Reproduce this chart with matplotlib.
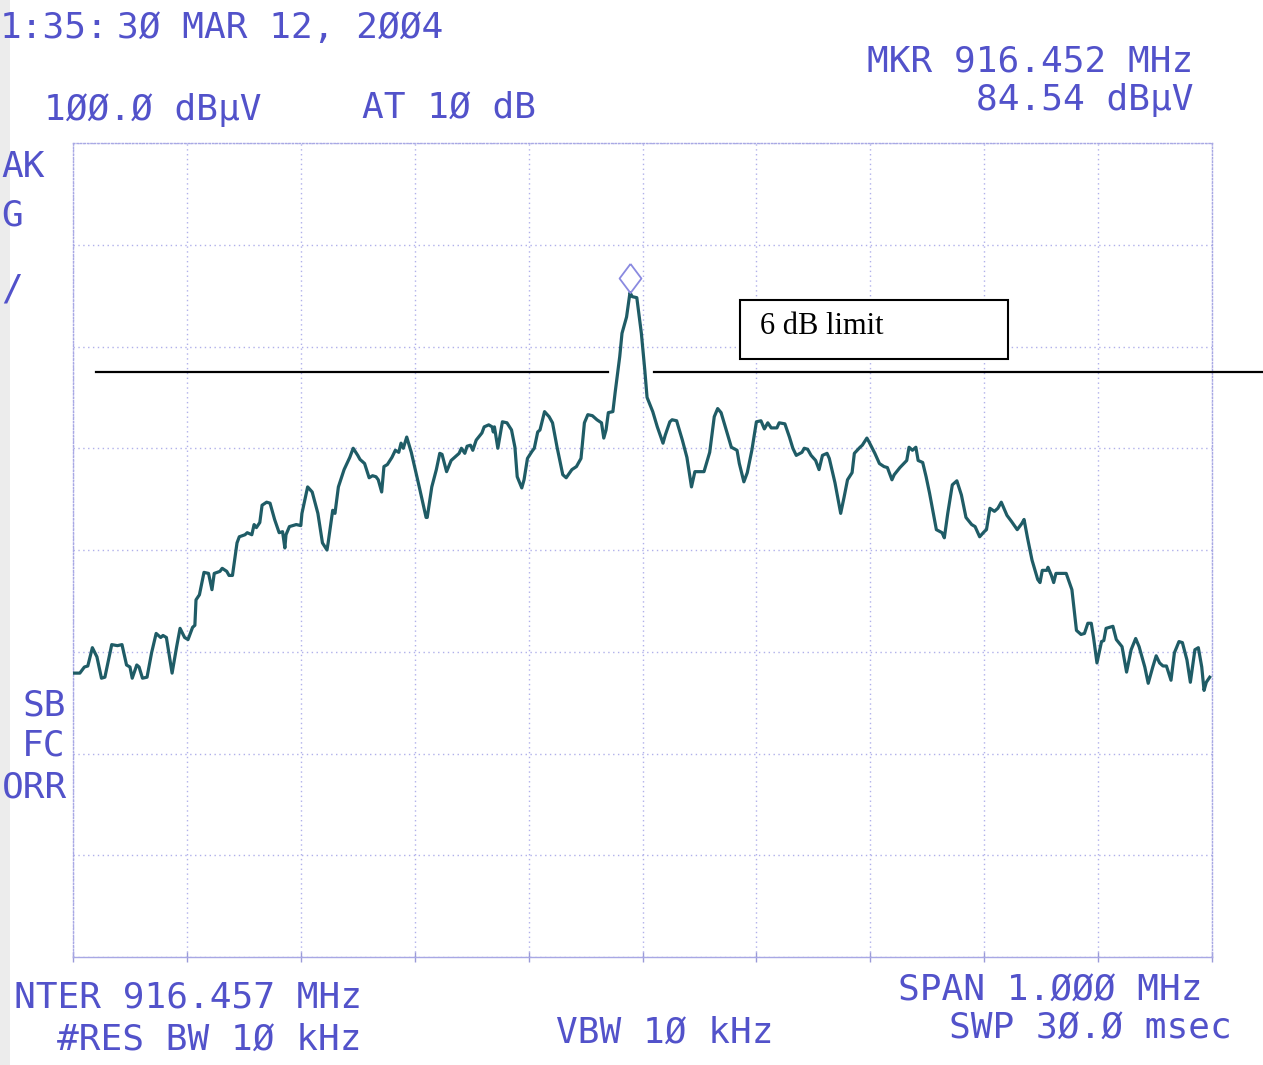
import matplotlib
matplotlib.use('Agg')
import matplotlib.pyplot as plt
import matplotlib.transforms as mtransforms
from matplotlib.patches import Rectangle
import numpy as np

# analyzer settings (from the printout)
center_mhz = 916.457
span_mhz = 1.0
ref_level = 100.0
db_per_div = 10.0
n_vdiv = 8

# trace: offset from center (kHz) and level (dBuV)
offset_khz = [
    -500, -494, -490, -487, -483, -479, -475, -472, -466, -461, -457, -453,
    -450, -448, -444, -442, -439, -435, -431, -427, -423, -421, -418, -413,
    -409, -406, -402, -399, -395, -393, -392, -389, -385, -381, -378, -376,
    -371, -369, -365, -363, -360, -356, -354, -349, -347, -343, -341, -339,
    -336, -334, -330, -327, -323, -319, -316, -314, -313, -310, -307, -304,
    -300, -299, -294, -290, -285, -281, -277, -276, -272, -270, -267, -262,
    -257, -254, -250, -248, -244, -240, -237, -234, -232, -229, -227, -224,
    -220, -217, -214, -212, -210, -207, -203, -196, -190, -189, -185, -181,
    -178, -176, -172, -168, -165, -161, -159, -156, -154, -151, -149, -146,
    -141, -139, -135, -132, -131, -130, -127, -123, -119, -115, -112, -110,
    -106, -104, -101, -97, -95, -92, -90, -86, -82, -79, -75, -70,
    -67, -62, -58, -54, -51, -48, -44, -40, -36, -34, -32, -30,
    -26, -24, -20, -18, -14, -11, -9, -5, -1, 2, 4, 9,
    13, 18, 20, 24, 26, 30, 31, 35, 39, 43, 46, 50,
    54, 59, 63, 66, 69, 74, 78, 83, 85, 89, 92, 96,
    100, 104, 107, 110, 113, 118, 120, 125, 129, 132, 135, 140,
    142, 145, 148, 152, 155, 158, 162, 164, 169, 174, 177, 180,
    184, 186, 191, 193, 197, 199, 204, 208, 212, 215, 219, 221,
    226, 232, 234, 237, 240, 242, 246, 249, 252, 258, 263, 265,
    268, 272, 276, 280, 284, 289, 292, 296, 300, 302, 305, 309,
    312, 315, 320, 324, 329, 333, 335, 338, 342, 347, 349, 351,
    355, 356, 359, 361, 363, 368, 372, 377, 381, 385, 388, 391,
    394, 396, 399, 403, 405, 407, 413, 416, 421, 425, 429, 433,
    436, 441, 444, 448, 451, 454, 457, 460, 464, 467, 471, 474,
    478, 481, 485, 488, 491, 493, 495, 498,
]
level_db = [
    47.9, 47.9, 48.5, 48.6, 50.4, 49.5, 47.4, 47.5, 50.7, 50.6, 50.7, 48.7,
    48.5, 47.4, 48.7, 48.5, 47.4, 47.5, 49.9, 51.8, 51.4, 51.6, 51.4, 47.9,
    50.5, 52.3, 51.4, 51.2, 52.4, 52.6, 55.1, 55.6, 57.8, 57.7, 56.1, 57.7,
    57.9, 58.2, 57.9, 57.5, 57.5, 60.7, 61.3, 61.5, 61.7, 61.5, 62.5, 62.2,
    62.7, 64.4, 64.7, 64.6, 63.0, 61.7, 61.8, 60.2, 61.5, 62.3, 62.4, 62.5,
    62.4, 63.6, 66.2, 65.7, 63.6, 60.7, 60.0, 60.7, 63.9, 63.6, 66.2, 67.9,
    69.1, 70.0, 69.3, 68.9, 68.5, 67.1, 67.3, 67.2, 66.9, 65.7, 68.2, 68.4,
    69.1, 69.8, 69.6, 70.5, 70.0, 71.1, 69.6, 66.2, 63.2, 63.2, 66.2, 67.9,
    69.5, 69.4, 67.7, 68.8, 69.1, 69.5, 70.0, 69.5, 70.2, 70.3, 69.8, 70.8,
    71.5, 72.1, 72.3, 72.1, 71.6, 72.1, 70.0, 72.6, 72.5, 71.8, 70.1, 67.2,
    66.1, 66.9, 69.0, 69.7, 70.0, 71.6, 71.8, 73.6, 73.1, 72.5, 70.1, 67.4,
    67.1, 67.9, 68.2, 69.0, 72.5, 73.3, 73.2, 72.8, 72.5, 71.0, 71.8, 73.5,
    73.6, 75.5, 79.0, 81.3, 82.9, 85.3, 84.9, 84.8, 81.3, 77.7, 75.0, 73.6,
    72.1, 70.5, 71.3, 72.6, 72.8, 72.7, 72.3, 70.8, 69.1, 66.2, 67.7, 67.7,
    67.7, 69.6, 73.1, 73.9, 73.5, 71.6, 70.1, 69.8, 68.5, 66.7, 67.6, 69.8,
    72.6, 72.7, 71.9, 72.5, 72.0, 72.0, 72.5, 72.4, 71.1, 70.0, 69.3, 69.6,
    70.0, 69.9, 69.3, 68.8, 67.9, 69.3, 69.5, 69.0, 66.6, 63.6, 65.2, 66.9,
    67.6, 69.5, 70.1, 70.3, 71.0, 70.6, 69.5, 68.5, 68.2, 68.1, 66.9, 67.4,
    68.1, 68.8, 70.1, 69.8, 70.1, 68.8, 68.6, 67.2, 65.6, 62.0, 61.7, 61.2,
    63.6, 66.4, 66.8, 65.4, 63.2, 62.5, 62.3, 61.3, 61.8, 62.0, 64.1, 63.8,
    64.1, 64.7, 63.4, 62.8, 62.0, 62.6, 63.0, 61.2, 59.0, 57.1, 56.8, 58.0,
    58.0, 58.3, 57.5, 56.8, 57.7, 57.7, 57.7, 56.1, 52.1, 51.7, 51.8, 52.8,
    52.8, 51.4, 48.9, 51.0, 51.1, 52.3, 52.5, 51.2, 50.5, 48.0, 50.2, 51.3,
    50.5, 48.5, 46.9, 48.5, 49.6, 48.9, 48.6, 48.6, 47.2, 49.9, 51.0, 50.9,
    49.2, 47.0, 50.2, 50.4, 48.5, 46.2, 47.0, 47.5,
]

# hand drawn "6 dB limit" line and its label box
limit_db = 77.5
limit_from_khz = [-480, 10]
limit_to_khz = [-30, 544]
box_khz = [86, 321]
box_db = [78.8, 84.6]
box_text = '6 dB limit'

# printed annotation strings (what is visible on the cropped scan):
# text, anchor x px, centre y px, alignment
print_labels = [
    ('1:35:', 0, 28, 'left'),
    ('3Ø MAR 12, 2ØØ4', 443, 28, 'right'),
    ('1ØØ.Ø dBµV', 262, 110, 'right'),
    ('AT 1Ø dB', 536, 108, 'right'),
    ('MKR 916.452 MHz', 1193, 62, 'right'),
    ('84.54 dBµV', 1193, 100, 'right'),
    ('AK', 1, 167, 'left'),
    ('G', 1, 215, 'left'),
    ('/', 1, 290, 'left'),
    ('SB', 66, 706, 'right'),
    ('FC', 65, 746, 'right'),
    ('ORR', 67, 788, 'right'),
    ('NTER 916.457 MHz', 362, 997, 'right'),
    ('#RES BW 1Ø kHz', 362, 1040, 'right'),
    ('VBW 1Ø kHz', 773, 1033, 'right'),
    ('SPAN 1.ØØØ MHz', 1202, 990, 'right'),
    ('SWP 3Ø.Ø msec', 1232, 1028, 'right'),
]

W, H = 1263, 1065
fig = plt.figure(figsize=(W / 100, H / 100), dpi=100)
fig.patch.set_facecolor('white')
fig.patches.append(Rectangle((0, 0), 10 / W, 1, transform=fig.transFigure,
                             facecolor='#ececec', edgecolor='none', zorder=0))

ax = fig.add_axes([73 / W, 1 - 957 / H, (1212 - 73) / W, (957 - 143) / H])

freq = center_mhz + np.array(offset_khz) / 1000.0
ax.plot(freq, level_db, color='#1f5c66', lw=2.3, solid_joinstyle='round', zorder=3)

# marker diamond sits just above the peak
ipk = int(np.argmax(level_db))
diamond = [(0, 1), (0.75, 0), (0, -1), (-0.75, 0), (0, 1)]
mk_trans = mtransforms.offset_copy(ax.transData, fig=fig, x=0, y=15, units='dots')
ax.plot(freq[ipk], level_db[ipk], marker=diamond, ms=21, mfc='none',
        mec='#8a8ae0', mew=1.3, transform=mk_trans, zorder=4)

# limit line (runs past the graticule on the right)
for a, b in zip(limit_from_khz, limit_to_khz):
    ax.plot([center_mhz + a / 1000.0, center_mhz + b / 1000.0], [limit_db, limit_db],
            color='black', lw=1.6, clip_on=False, zorder=5)

ax.add_patch(Rectangle((center_mhz + box_khz[0] / 1000.0, box_db[0]),
                       (box_khz[1] - box_khz[0]) / 1000.0, box_db[1] - box_db[0],
                       facecolor='white', edgecolor='black', lw=1.5, zorder=5))
ax.text(center_mhz + (box_khz[0] + 17) / 1000.0, 81.2, box_text,
        family='Liberation Serif', fontsize=22, color='black', zorder=6)

x0 = center_mhz - span_mhz / 2
x1 = center_mhz + span_mhz / 2
y0 = ref_level - n_vdiv * db_per_div
ax.set_xlim(x0, x1)
ax.set_ylim(y0, ref_level)
ax.set_xticks(np.linspace(x0, x1, 11))
ax.set_yticks(np.linspace(y0, ref_level, n_vdiv + 1))
ax.set_xticklabels([])
ax.set_yticklabels([])
ax.tick_params(axis='y', length=0)
ax.tick_params(axis='x', direction='inout', length=7, color='#9a9ad8', width=1)
ax.tick_params(axis='x', top=False)
ax.grid(True, color='#b0b0ea', lw=1.0, ls=(0, (1, 2.5)))
for side, sp in ax.spines.items():
    sp.set_color('#a8a8e4')
    sp.set_linewidth(1.0)
    sp.set_linestyle((0, (1, 1.5)) if side != 'bottom' else '-')

for s, xa, yc, ha in print_labels:
    fig.text(xa / W, 1 - yc / H, s, ha=ha, va='center',
             family='DejaVu Sans Mono', fontsize=26, color='#5252ca')

fig.savefig('out.png', dpi=100)
